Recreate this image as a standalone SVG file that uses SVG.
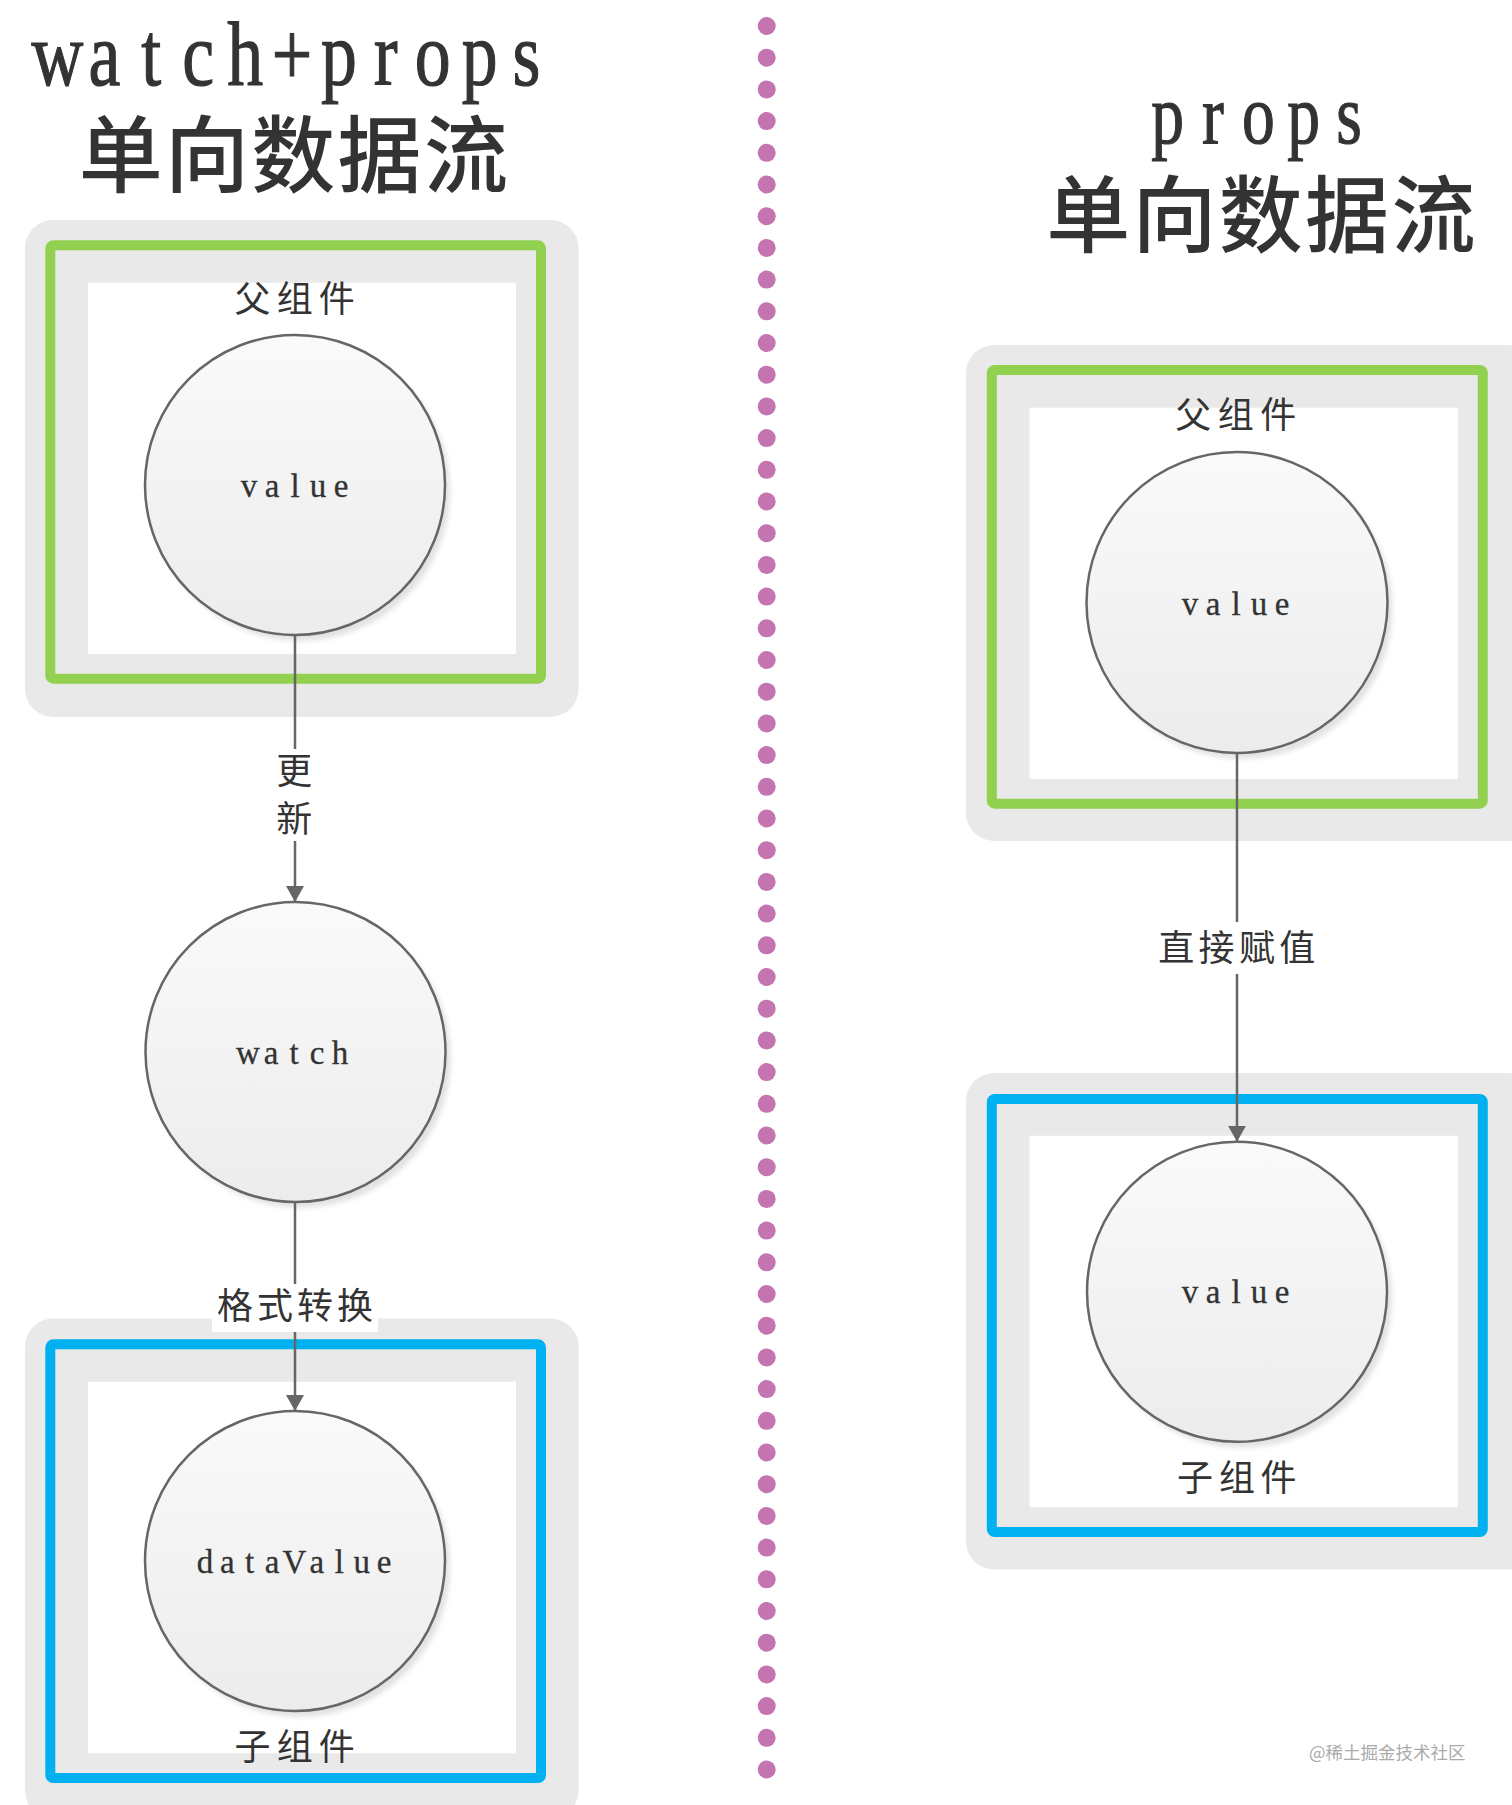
<svg xmlns="http://www.w3.org/2000/svg" width="1512" height="1805" viewBox="0 0 1512 1805">
  <defs>
    <linearGradient id="ballFill" x1="0" y1="0" x2="0" y2="1">
      <stop offset="0" stop-color="#fafafa"/>
      <stop offset="1" stop-color="#ececec"/>
    </linearGradient>
    <filter id="soft" x="-10%" y="-10%" width="120%" height="120%">
      <feGaussianBlur stdDeviation="2.5"/>
    </filter>
    <marker id="arrow" viewBox="0 0 16 18" refX="16" refY="9" markerWidth="16" markerHeight="18" markerUnits="userSpaceOnUse" orient="auto">
      <path d="M0,0 L16,9 L0,18 Z" fill="#666666"/>
    </marker>
    <style>
      .outer { fill: #e9e9e9; }
      .inner { fill: #ffffff; }
      .green { fill: none; stroke: #92d050; stroke-width: 10; }
      .blue { fill: none; stroke: #00b0f0; stroke-width: 10; }
      .ball { fill: url(#ballFill); stroke: #666666; stroke-width: 2.5; }
      .shadow { fill: #e2e2e2; filter: url(#soft); }
      .lat { font-family: "Liberation Serif", "Times New Roman", serif; fill: #333333; text-anchor: middle; }
      .ttl { stroke: #333333; stroke-width: 1.2; }
      .cjk { font-family: "Noto Sans CJK SC", "Noto Sans", sans-serif; fill: #333333; text-anchor: middle; }
      .small { font-size: 33px; stroke: #333333; stroke-width: 0.3; }
      .lbl { font-size: 36px; }
      .big { font-size: 84px; font-weight: 500; }
      .edge { stroke: #666666; stroke-width: 2.5; fill: none; }
      .lblbg { fill: #ffffff; }
      .dot { fill: #c474b1; }
    </style>
  </defs>

  <rect x="0" y="0" width="1512" height="1805" fill="#ffffff"/>

  <!-- Titles -->
  <g id="title-left">
    <g transform="scale(0.78,1)">
      <text class="lat ttl" font-size="92" y="85" x="73.7 133.8 194.0 254.1 314.2 374.4 434.5 494.6 554.7 614.9 675.0">watch+props</text>
    </g>
    <text class="cjk big" y="186" x="120.8 207 293.3 379.6 466">单向数据流</text>
  </g>
  <g id="title-right">
    <g transform="scale(0.78,1)">
      <text class="lat ttl" font-size="84" y="143" x="1497.1 1555.1 1613.2 1671.4 1729.5">props</text>
    </g>
    <text class="cjk big" y="246" x="1088.2 1174.5 1260.8 1347.1 1433.4">单向数据流</text>
  </g>

  <!-- Divider -->
  <g id="divider">
    <circle class="dot" cx="766.7" cy="26" r="9"/>
    <circle class="dot" cx="766.7" cy="57.7" r="9"/>
    <circle class="dot" cx="766.7" cy="89.4" r="9"/>
    <circle class="dot" cx="766.7" cy="121.1" r="9"/>
    <circle class="dot" cx="766.7" cy="152.8" r="9"/>
    <circle class="dot" cx="766.7" cy="184.5" r="9"/>
    <circle class="dot" cx="766.7" cy="216.2" r="9"/>
    <circle class="dot" cx="766.7" cy="247.9" r="9"/>
    <circle class="dot" cx="766.7" cy="279.6" r="9"/>
    <circle class="dot" cx="766.7" cy="311.3" r="9"/>
    <circle class="dot" cx="766.7" cy="343" r="9"/>
    <circle class="dot" cx="766.7" cy="374.7" r="9"/>
    <circle class="dot" cx="766.7" cy="406.4" r="9"/>
    <circle class="dot" cx="766.7" cy="438.1" r="9"/>
    <circle class="dot" cx="766.7" cy="469.8" r="9"/>
    <circle class="dot" cx="766.7" cy="501.5" r="9"/>
    <circle class="dot" cx="766.7" cy="533.2" r="9"/>
    <circle class="dot" cx="766.7" cy="564.9" r="9"/>
    <circle class="dot" cx="766.7" cy="596.6" r="9"/>
    <circle class="dot" cx="766.7" cy="628.3" r="9"/>
    <circle class="dot" cx="766.7" cy="660" r="9"/>
    <circle class="dot" cx="766.7" cy="691.7" r="9"/>
    <circle class="dot" cx="766.7" cy="723.4" r="9"/>
    <circle class="dot" cx="766.7" cy="755.1" r="9"/>
    <circle class="dot" cx="766.7" cy="786.8" r="9"/>
    <circle class="dot" cx="766.7" cy="818.5" r="9"/>
    <circle class="dot" cx="766.7" cy="850.2" r="9"/>
    <circle class="dot" cx="766.7" cy="881.9" r="9"/>
    <circle class="dot" cx="766.7" cy="913.6" r="9"/>
    <circle class="dot" cx="766.7" cy="945.3" r="9"/>
    <circle class="dot" cx="766.7" cy="977" r="9"/>
    <circle class="dot" cx="766.7" cy="1008.7" r="9"/>
    <circle class="dot" cx="766.7" cy="1040.4" r="9"/>
    <circle class="dot" cx="766.7" cy="1072.1" r="9"/>
    <circle class="dot" cx="766.7" cy="1103.8" r="9"/>
    <circle class="dot" cx="766.7" cy="1135.5" r="9"/>
    <circle class="dot" cx="766.7" cy="1167.2" r="9"/>
    <circle class="dot" cx="766.7" cy="1198.9" r="9"/>
    <circle class="dot" cx="766.7" cy="1230.6" r="9"/>
    <circle class="dot" cx="766.7" cy="1262.3" r="9"/>
    <circle class="dot" cx="766.7" cy="1294" r="9"/>
    <circle class="dot" cx="766.7" cy="1325.7" r="9"/>
    <circle class="dot" cx="766.7" cy="1357.4" r="9"/>
    <circle class="dot" cx="766.7" cy="1389.1" r="9"/>
    <circle class="dot" cx="766.7" cy="1420.8" r="9"/>
    <circle class="dot" cx="766.7" cy="1452.5" r="9"/>
    <circle class="dot" cx="766.7" cy="1484.2" r="9"/>
    <circle class="dot" cx="766.7" cy="1515.9" r="9"/>
    <circle class="dot" cx="766.7" cy="1547.6" r="9"/>
    <circle class="dot" cx="766.7" cy="1579.3" r="9"/>
    <circle class="dot" cx="766.7" cy="1611" r="9"/>
    <circle class="dot" cx="766.7" cy="1642.7" r="9"/>
    <circle class="dot" cx="766.7" cy="1674.4" r="9"/>
    <circle class="dot" cx="766.7" cy="1706.1" r="9"/>
    <circle class="dot" cx="766.7" cy="1737.8" r="9"/>
    <circle class="dot" cx="766.7" cy="1769.5" r="9"/>
  </g>

  <!-- Containers -->
  <g id="parent-left">
    <rect class="outer" x="25" y="220" width="553.6" height="497" rx="28"/>
    <rect class="green" x="50.3" y="245.3" width="490.7" height="433.4" rx="3"/>
    <rect class="inner" x="88" y="282.7" width="428" height="371.3"/>
    <text class="cjk lbl" y="312.2" x="252.6 294.7 336.8">父组件</text>
  </g>
  <g id="child-left">
    <rect class="outer" x="25" y="1318.5" width="553.6" height="500" rx="28"/>
    <rect class="blue" x="50.3" y="1344.3" width="490.7" height="433.7" rx="3"/>
    <rect class="inner" x="88" y="1381.7" width="428" height="371.6"/>
    <text class="cjk lbl" y="1760" x="252.6 294.7 336.8">子组件</text>
  </g>
  <g id="parent-right">
    <rect class="outer" x="966" y="345" width="570" height="496" rx="28"/>
    <rect class="green" x="991.8" y="370" width="491" height="433.7" rx="3"/>
    <rect class="inner" x="1029.6" y="407.7" width="428.3" height="371.3"/>
    <text class="cjk lbl" y="427.9" x="1193.2 1235.7 1278.2">父组件</text>
  </g>
  <g id="child-right">
    <rect class="outer" x="966" y="1073" width="570" height="496.5" rx="28"/>
    <rect class="blue" x="991.8" y="1099" width="491" height="433" rx="3"/>
    <rect class="inner" x="1029.6" y="1135.8" width="428.3" height="371.4"/>
    <text class="cjk lbl" y="1491.4" x="1195 1237 1278.5">子组件</text>
  </g>

  <!-- Circle nodes -->
  <g id="node-value-left">
    <circle class="shadow" cx="300" cy="491" r="150"/>
    <circle class="ball" cx="295" cy="485" r="150"/>
    <text class="lat small" y="496.7" x="249 272 295 318 341">value</text>
  </g>
  <g id="node-watch">
    <circle class="shadow" cx="300.8" cy="1058" r="150"/>
    <circle class="ball" cx="295.5" cy="1052" r="150"/>
    <text class="lat small" y="1064" x="248 271 294 317 340">watch</text>
  </g>
  <g id="node-datavalue">
    <circle class="shadow" cx="300" cy="1567" r="150"/>
    <circle class="ball" cx="295" cy="1561" r="150"/>
    <text class="lat small" y="1573" x="204.9 227.3 249.7 272.1 294.5 316.9 339.3 361.7 384.1">dataValue</text>
  </g>
  <g id="node-value-right-parent">
    <circle class="shadow" cx="1242" cy="608.5" r="150.5"/>
    <circle class="ball" cx="1237" cy="602.5" r="150.5"/>
    <text class="lat small" y="615" x="1190 1213 1236 1259 1282">value</text>
  </g>
  <g id="node-value-right-child">
    <circle class="shadow" cx="1242" cy="1297.8" r="150"/>
    <circle class="ball" cx="1237" cy="1291.8" r="150"/>
    <text class="lat small" y="1303" x="1190 1213 1236 1259 1282">value</text>
  </g>

  <!-- Connectors -->
  <g id="connectors">
    <line class="edge" x1="295" y1="635" x2="295" y2="902" marker-end="url(#arrow)"/>
    <rect class="lblbg" x="272" y="749" width="45" height="92"/>
    <text class="cjk lbl" x="294.3" y="784.2">更</text>
    <text class="cjk lbl" x="294.3" y="832.2">新</text>

    <line class="edge" x1="295" y1="1202" x2="295" y2="1411" marker-end="url(#arrow)"/>
    <rect class="lblbg" x="212" y="1284" width="166" height="48"/>
    <text class="cjk lbl" y="1318.7" x="235 275 315 355">格式转换</text>

    <line class="edge" x1="1237" y1="753" x2="1237" y2="1141.8" marker-end="url(#arrow)"/>
    <rect class="lblbg" x="1156" y="922" width="163" height="52"/>
    <text class="cjk lbl" y="960.5" x="1176.2 1216.5 1256.9 1297.2">直接赋值</text>
  </g>

  <text x="1309" y="1759" font-family="Noto Sans CJK SC, Noto Sans, sans-serif" font-size="17.5" fill="#aaaaaa">@稀土掘金技术社区</text>
</svg>
